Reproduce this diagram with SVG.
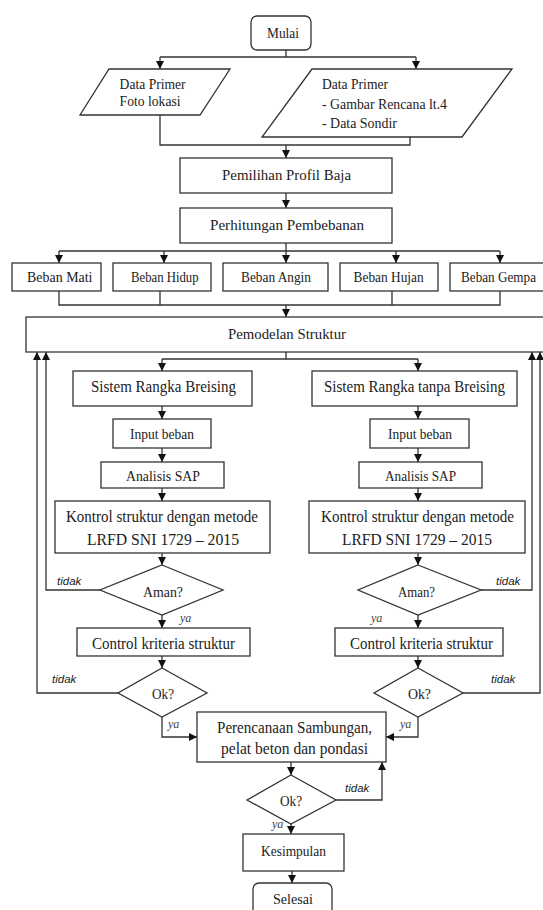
<svg xmlns="http://www.w3.org/2000/svg" width="543" height="910" viewBox="0 0 543 910">
<style>
.b{fill:#fff;stroke:#333;stroke-width:1.3}
.c{fill:none;stroke:#333;stroke-width:1.3}
.a{fill:none;stroke:#333;stroke-width:1.3;marker-end:url(#ah)}
.t{font-family:"Liberation Serif","Times New Roman",serif;font-size:15px;fill:#222}
.L{font-size:16px}
.s{font-size:14px}
.n{font-family:"Liberation Sans",Arial,sans-serif;font-style:italic;font-size:11.5px;fill:#222}
.y{font-family:"Liberation Serif",serif;font-style:italic;font-size:12px;fill:#444}
</style>
<defs>
<marker id="ah" markerUnits="userSpaceOnUse" markerWidth="9" markerHeight="8" refX="8" refY="4" orient="auto">
<path d="M0,0 L8,4 L0,8 z" fill="#111"/>
</marker>
</defs>
<rect width="543" height="910" fill="#fff"/>

<g id="connectors">
<path class="c" d="M286,50 V57 M160,57 H416"/>
<path class="a" d="M160,57 V69"/>
<path class="a" d="M416,57 V69"/>
<path class="c" d="M160,115 V145 H410 V137"/>
<path class="a" d="M286,145 V158"/>
<path class="a" d="M286,193 V208"/>
<path class="c" d="M286,243 V251 M59,251 H500"/>
<path class="a" d="M59,251 V263"/>
<path class="a" d="M164,251 V263"/>
<path class="a" d="M286,251 V263"/>
<path class="a" d="M396,251 V263"/>
<path class="a" d="M500,251 V263"/>
<path class="c" d="M59,291 V305 H500 V291 M160,291 V305 M392,291 V305"/>
<path class="a" d="M286,305 V317"/>
<path class="c" d="M286,352 V359 M162,359 H418"/>
<path class="a" d="M162,359 V371"/>
<path class="a" d="M418,359 V371"/>
<path class="a" d="M162,406 V419"/>
<path class="a" d="M162,448 V462"/>
<path class="a" d="M162,488 V501"/>
<path class="a" d="M162,553 V565"/>
<path class="a" d="M162,615 V628"/>
<path class="a" d="M162,656 V668"/>
<path class="a" d="M418,406 V419"/>
<path class="a" d="M418,448 V462"/>
<path class="a" d="M418,488 V501"/>
<path class="a" d="M418,553 V565"/>
<path class="a" d="M418,615 V628"/>
<path class="a" d="M418,656 V668"/>
<path class="a" d="M100,590 H46 V352"/>
<path class="a" d="M118,693 H37 V352"/>
<path class="a" d="M481,590 H532 V352"/>
<path class="a" d="M463,693 H540 V352"/>
<path class="a" d="M162,717 V737 H197"/>
<path class="a" d="M418,717 V737 H386"/>
<path class="a" d="M291,762 V775"/>
<path class="a" d="M336,800 H382 V762"/>
<path class="a" d="M291,824 V834"/>
<path class="a" d="M292,871 V883"/>
</g>

<g id="mulai"><rect class="b" x="251" y="16" width="60" height="34" rx="6"/><text class="t" x="267" y="38" textLength="32" lengthAdjust="spacingAndGlyphs">Mulai</text></g>
<g id="data1"><polygon class="b" points="109,69 230,69 200,115 80,115"/>
<text class="t" x="119.6" y="89" textLength="66" lengthAdjust="spacingAndGlyphs">Data Primer</text>
<text class="t" x="119.6" y="106" textLength="61" lengthAdjust="spacingAndGlyphs">Foto lokasi</text></g>
<g id="data2"><polygon class="b" points="312,69 512,69 462,137 262,137"/>
<text class="t" x="322" y="89" textLength="66" lengthAdjust="spacingAndGlyphs">Data Primer</text>
<text class="t" x="322" y="109" textLength="125" lengthAdjust="spacingAndGlyphs">- Gambar Rencana lt.4</text>
<text class="t" x="322" y="128" textLength="75" lengthAdjust="spacingAndGlyphs">- Data Sondir</text></g>
<g id="pemilihan"><rect class="b" x="180" y="158" width="212" height="35"/><text class="t" x="222" y="180" textLength="129" lengthAdjust="spacingAndGlyphs">Pemilihan Profil Baja</text></g>
<g id="perhitungan"><rect class="b" x="180" y="208" width="212" height="35"/><text class="t" x="210" y="230" textLength="154" lengthAdjust="spacingAndGlyphs">Perhitungan Pembebanan</text></g>
<g id="mati"><rect class="b" x="12" y="263" width="89" height="28"/><text class="t" x="27" y="282" textLength="65.5" lengthAdjust="spacingAndGlyphs">Beban Mati</text></g>
<g id="hidup"><rect class="b" x="113" y="263" width="98" height="28"/><text class="t" x="131" y="282" textLength="67.6" lengthAdjust="spacingAndGlyphs">Beban Hidup</text></g>
<g id="angin"><rect class="b" x="223" y="263" width="105" height="28"/><text class="t" x="241" y="282" textLength="70" lengthAdjust="spacingAndGlyphs">Beban Angin</text></g>
<g id="hujan"><rect class="b" x="340" y="263" width="98" height="28"/><text class="t" x="353.6" y="282" textLength="70" lengthAdjust="spacingAndGlyphs">Beban Hujan</text></g>
<g id="gempa"><rect class="b" x="450" y="263" width="100" height="28"/><text class="t" x="461" y="282" textLength="75" lengthAdjust="spacingAndGlyphs">Beban Gempa</text></g>
<g id="pemodelan"><rect class="b" x="26" y="317" width="530" height="35"/><text class="t" x="228" y="339" textLength="118" lengthAdjust="spacingAndGlyphs">Pemodelan Struktur</text></g>

<g id="sistem1"><rect class="b" x="73" y="371" width="179" height="35"/><text class="t L" x="91" y="392" textLength="145" lengthAdjust="spacingAndGlyphs">Sistem Rangka Breising</text></g>
<g id="input1"><rect class="b" x="113" y="419" width="98" height="29"/><text class="t s" x="130" y="439" textLength="64" lengthAdjust="spacingAndGlyphs">Input beban</text></g>
<g id="sap1"><rect class="b" x="101" y="462" width="123" height="26"/><text class="t s" x="126" y="481" textLength="74" lengthAdjust="spacingAndGlyphs">Analisis SAP</text></g>
<g id="kontrol1"><rect class="b" x="55" y="501" width="215" height="52"/>
<text class="t L" x="66" y="522" textLength="192" lengthAdjust="spacingAndGlyphs">Kontrol struktur dengan metode</text>
<text class="t L" x="87" y="545" textLength="152" lengthAdjust="spacingAndGlyphs">LRFD SNI 1729 – 2015</text></g>
<g id="aman1"><polygon class="b" points="162,565 223,590 162,615 100,590"/><text class="t" x="143" y="597" textLength="40" lengthAdjust="spacingAndGlyphs">Aman?</text></g>
<g id="kriteria1"><rect class="b" x="77" y="628" width="173" height="28"/><text class="t L" x="92" y="649" textLength="143" lengthAdjust="spacingAndGlyphs">Control kriteria struktur</text></g>
<g id="ok1"><polygon class="b" points="162,668 207,693 162,717 118,693"/><text class="t" x="152" y="699" textLength="22" lengthAdjust="spacingAndGlyphs">Ok?</text></g>

<g id="sistem2"><rect class="b" x="312" y="371" width="205" height="35"/><text class="t L" x="324" y="392" textLength="181" lengthAdjust="spacingAndGlyphs">Sistem Rangka tanpa Breising</text></g>
<g id="input2"><rect class="b" x="370" y="419" width="99" height="29"/><text class="t s" x="388" y="439" textLength="64" lengthAdjust="spacingAndGlyphs">Input beban</text></g>
<g id="sap2"><rect class="b" x="359" y="462" width="123" height="26"/><text class="t s" x="385" y="481" textLength="71" lengthAdjust="spacingAndGlyphs">Analisis SAP</text></g>
<g id="kontrol2"><rect class="b" x="309" y="501" width="216" height="52"/>
<text class="t L" x="321" y="522" textLength="193" lengthAdjust="spacingAndGlyphs">Kontrol struktur dengan metode</text>
<text class="t L" x="342" y="545" textLength="150" lengthAdjust="spacingAndGlyphs">LRFD SNI 1729 – 2015</text></g>
<g id="aman2"><polygon class="b" points="418,565 481,590 418,615 358,590"/><text class="t" x="398" y="597" textLength="37" lengthAdjust="spacingAndGlyphs">Aman?</text></g>
<g id="kriteria2"><rect class="b" x="335" y="628" width="168" height="28"/><text class="t L" x="350" y="649" textLength="143" lengthAdjust="spacingAndGlyphs">Control kriteria struktur</text></g>
<g id="ok2"><polygon class="b" points="418,668 463,693 418,717 374,693"/><text class="t" x="408" y="699" textLength="23" lengthAdjust="spacingAndGlyphs">Ok?</text></g>

<g id="perencanaan"><rect class="b" x="197" y="712" width="189" height="50"/>
<text class="t L" x="217" y="733" textLength="155" lengthAdjust="spacingAndGlyphs">Perencanaan Sambungan,</text>
<text class="t L" x="221" y="754" textLength="147" lengthAdjust="spacingAndGlyphs">pelat beton dan pondasi</text></g>
<g id="ok3"><polygon class="b" points="291,775 336,800 291,824 247,800"/><text class="t" x="280" y="806" textLength="22" lengthAdjust="spacingAndGlyphs">Ok?</text></g>
<g id="kesimpulan"><rect class="b" x="243" y="834" width="101" height="37"/><text class="t" x="261" y="856" textLength="65" lengthAdjust="spacingAndGlyphs">Kesimpulan</text></g>
<g id="selesai"><rect class="b" x="253" y="883" width="79" height="36" rx="6"/><text class="t" x="273" y="904" textLength="40" lengthAdjust="spacingAndGlyphs">Selesai</text></g>

<g id="labels">
<text class="n" x="57" y="585">tidak</text>
<text class="n" x="52" y="683">tidak</text>
<text class="n" x="496" y="585">tidak</text>
<text class="n" x="491" y="683">tidak</text>
<text class="n" x="345" y="792">tidak</text>
<text class="y" x="180" y="622">ya</text>
<text class="y" x="371" y="622">ya</text>
<text class="y" x="168" y="728">ya</text>
<text class="y" x="400" y="728">ya</text>
<text class="y" x="272" y="828">ya</text>
</g>
</svg>
